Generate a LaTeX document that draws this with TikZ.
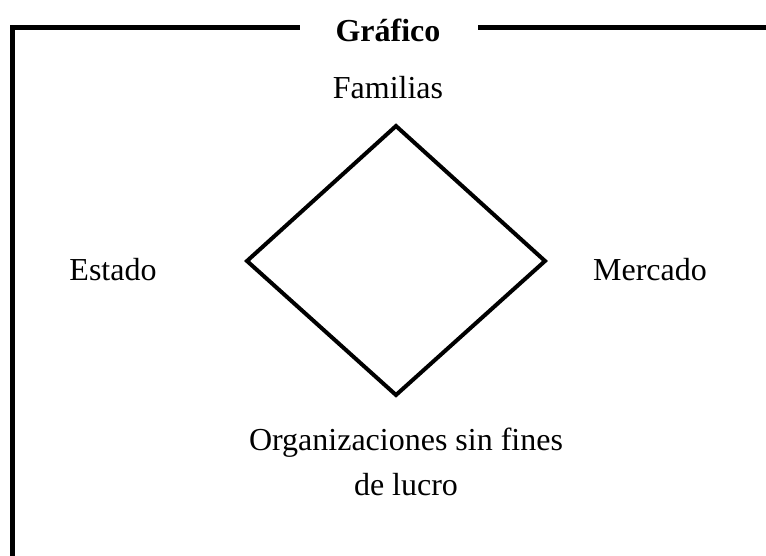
\documentclass[tikz,border=0pt]{standalone}
\usepackage{fontspec}
\setmainfont{Liberation Serif}
\begin{document}
\begin{tikzpicture}[x=1pt,y=-1pt,
  lbl/.style={font=\fontsize{32}{45}\selectfont, inner sep=0pt, align=center},
  frameline/.style={line width=5pt, line cap=butt, line join=miter},
  diamline/.style={line width=4pt, line join=miter}]
\useasboundingbox (0,0) rectangle (766,556);
% frame
\coordinate (fbl) at (12,560);
\coordinate (ftl) at (12,28);
\coordinate (fa) at (300,28);
\coordinate (fb) at (478,28);
\coordinate (fr) at (770,28);
\draw[frameline] (fbl) -- (ftl) -- (fa);
\draw[frameline] (fb) -- (fr);
\node[lbl, font=\fontsize{32}{40}\selectfont\bfseries] (title) at (388,30) {Gráfico};
% diamond
\coordinate (dt) at (396,126);
\coordinate (dl) at (247,261);
\coordinate (dr) at (545,261);
\coordinate (db) at (396,395);
\draw[diamline] (dt) -- (dr) -- (db) -- (dl) -- cycle;
% labels
\node[lbl] (fam) at (388,88) {Familias};
\node[lbl] (est) at (113,270) {Estado};
\node[lbl] (mer) at (650,270) {Mercado};
\node[lbl] (org) at (406,462) {Organizaciones sin fines\\de lucro};
\end{tikzpicture}
\end{document}
